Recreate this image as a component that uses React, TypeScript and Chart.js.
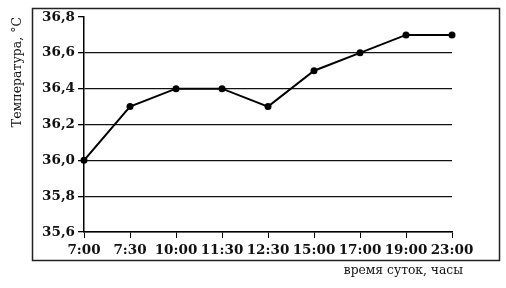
import React, { useEffect, useRef } from "react";
import { Chart, registerables } from "chart.js";

Chart.register(...registerables);

const categories = ["7:00", "7:30", "10:00", "11:30", "12:30", "15:00", "17:00", "19:00", "23:00"];
const temperatures = [36.0, 36.3, 36.4, 36.4, 36.3, 36.5, 36.6, 36.7, 36.7];
const yMin = 35.6;
const yMax = 36.8;
const yStep = 0.2;
const yTitle = "Температура, °С";
const xTitle = "время суток, часы";

const tickFont = { family: "DejaVu Serif", size: 13.5, weight: "bold" as const };
const titleFont = { family: "DejaVu Serif", size: 12.5 };

export default function App() {
  const ref = useRef<HTMLCanvasElement | null>(null);

  useEffect(() => {
    document.body.style.margin = "0";
    const canvas = ref.current!;
    const framePlugin = {
      id: "frame",
      afterDraw(chart: any) {
        const ctx = chart.ctx;
        ctx.save();
        ctx.strokeStyle = "#222";
        ctx.lineWidth = 1.5;
        ctx.strokeRect(32.5, 8.5, 467, 252);
        ctx.fillStyle = "#111";
        ctx.font = "12.3px 'DejaVu Serif'";
        ctx.textAlign = "right";
        ctx.textBaseline = "middle";
        ctx.fillText(xTitle, 463, 271);
        ctx.restore();
      },
    };
    const chart = new Chart(canvas, {
      type: "line",
      data: {
        labels: categories,
        datasets: [
          {
            data: temperatures,
            borderColor: "#000",
            backgroundColor: "#000",
            borderWidth: 2,
            pointRadius: 3.5,
            pointBackgroundColor: "#000",
            pointBorderWidth: 0,
            tension: 0,
          },
        ],
      },
      options: {
        responsive: false,
        animation: false,
        layout: { padding: { left: 0, top: 17, right: 54, bottom: 0 } },
        plugins: { legend: { display: false }, tooltip: { enabled: false } },
        scales: {
          x: {
            offset: false,
            grid: {
              drawOnChartArea: false,
              tickColor: "#000",
              tickLength: 6,
              tickWidth: 1,
            },
            border: { color: "#000", width: 1.5 },
            ticks: { color: "#111", font: tickFont, padding: 4, maxRotation: 0, autoSkip: false },
            afterFit: (s: any) => {
              s.height = 56;
            },
          },
          y: {
            min: yMin,
            max: yMax,
            grid: {
              color: (c: any) => (c.tick && Math.abs(c.tick.value - yMax) < 1e-6 ? "rgba(0,0,0,0)" : "#111"),
              lineWidth: 1.3,
              tickColor: "#000",
              tickLength: 6,
            },
            border: { color: "#000", width: 1.5 },
            ticks: {
              stepSize: yStep,
              color: "#111",
              font: tickFont,
              padding: 3,
              callback: (v: any) => Number(v).toFixed(1).replace(".", ","),
            },
            title: {
              display: true,
              text: yTitle,
              align: "end",
              color: "#111",
              font: titleFont,
              padding: { top: 10, bottom: 0 },
            },
            afterFit: (s: any) => {
              s.width = 84;
            },
          },
        },
      },
      plugins: [framePlugin],
    });
    return () => chart.destroy();
  }, []);

  return <canvas ref={ref} width={506} height={288} style={{ display: "block" }} />;
}
